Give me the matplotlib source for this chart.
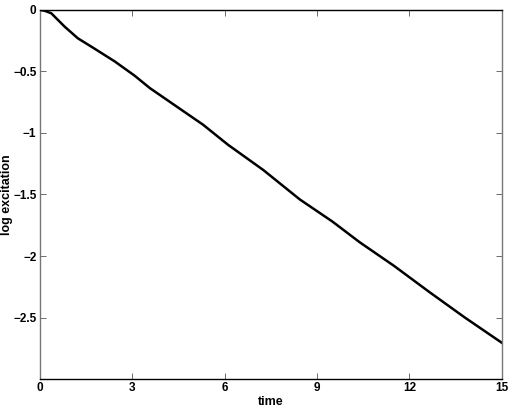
import numpy as np
import matplotlib.pyplot as plt

# values
time = [0, 0.15, 0.37, 0.80, 1.23, 1.79, 2.44, 3.08, 3.57, 4.44, 5.30, 6.11,
        7.25, 8.44, 9.5, 10.39, 11.5, 12.66, 13.8, 15]
log_exc = [0, -0.006, -0.027, -0.135, -0.23, -0.317, -0.42, -0.535, -0.635,
           -0.785, -0.933, -1.096, -1.30, -1.54, -1.72, -1.889, -2.08, -2.295,
           -2.50, -2.705]
xticks = [0, 3, 6, 9, 12, 15]
yticks = [0, -0.5, -1, -1.5, -2, -2.5]
ytick_labels = ["0", "\u22120.5", "\u22121", "\u22121.5", "\u22122", "\u22122.5"]

plt.rcParams['font.family'] = ['Liberation Sans', 'DejaVu Sans']
plt.rcParams['font.weight'] = 'bold'

fig = plt.figure(figsize=(5.12, 4.09), dpi=100)
ax = fig.add_axes([0.078, 0.0733, 0.902, 0.9023])

ax.plot(time, log_exc, color="black", linewidth=1.8, solid_joinstyle="round")

ax.set_xlim(0, 15)
ax.set_ylim(-3, 0)
ax.set_xticks(xticks)
ax.set_yticks(yticks)
ax.set_yticklabels(ytick_labels)
ax.tick_params(direction="in", top=True, right=True, length=4, width=0.6,
               labelsize=8.5, pad=2.5, color="#555555")
for lbl in ax.get_xticklabels() + ax.get_yticklabels():
    lbl.set_fontweight("bold")

ax.set_xlabel("time", fontsize=9, fontweight="bold", labelpad=1)
ax.set_ylabel("log excitation", fontsize=9, fontweight="bold")
# right edge of the rotated label sits close to the figure edge
ax.yaxis.set_label_coords(-0.058, 0.5)

for side in ["left", "right"]:
    ax.spines[side].set_color("#777777")
for side in ["top", "bottom"]:
    ax.spines[side].set_color("black")
for s in ax.spines.values():
    s.set_linewidth(1.0)

fig.savefig("out.png", dpi=100)
